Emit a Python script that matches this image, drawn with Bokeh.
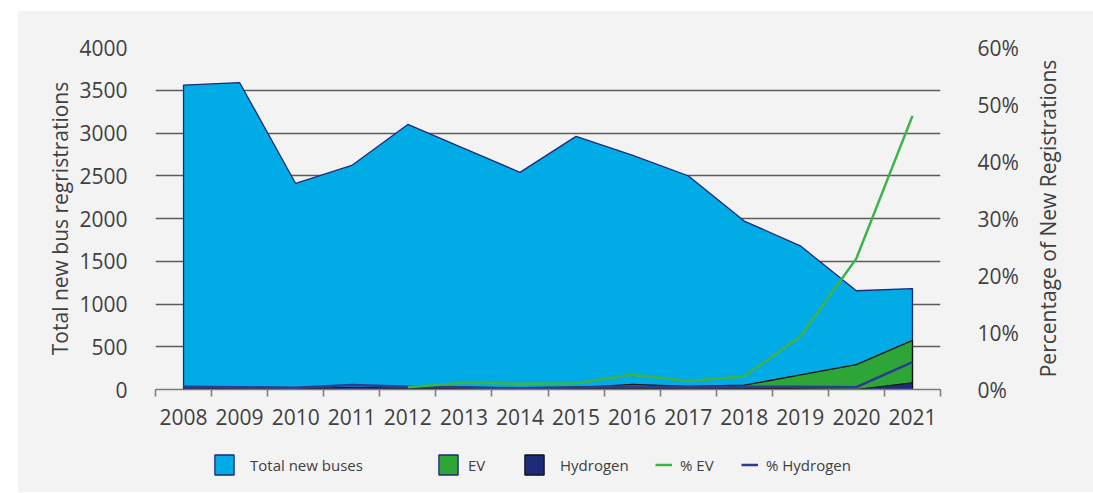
import math
from bokeh.plotting import figure
from bokeh.layouts import column, row
from bokeh.models import Range1d, LinearAxis, FixedTicker, PrintfTickFormatter, Legend, LegendItem
from bokeh.embed import file_html
from bokeh.resources import INLINE

# ---------------- data ----------------
years = [2008, 2009, 2010, 2011, 2012, 2013, 2014, 2015, 2016, 2017, 2018, 2019, 2020, 2021]
total_new_buses = [3560, 3590, 2410, 2620, 3100, 2820, 2540, 2960, 2740, 2500, 1970, 1680, 1155, 1180]
ev_buses = [0, 0, 0, 0, 0, 5, 5, 20, 60, 35, 50, 170, 290, 575]
hydrogen_buses = [20, 15, 10, 25, 15, 10, 5, 10, 10, 10, 15, 10, 0, 80]
pct_ev = [math.nan, math.nan, math.nan, math.nan, 0.4, 1.2, 1.0, 1.1, 2.6, 1.5, 2.3, 9.3, 23.0, 48.0]
pct_hydrogen = [0.5, 0.4, 0.3, 0.8, 0.5, 0.4, 0.2, 0.4, 0.5, 0.4, 0.5, 0.5, 0.4, 4.8]
left_ticks = [0, 500, 1000, 1500, 2000, 2500, 3000, 3500, 4000]
right_ticks = [0, 10, 20, 30, 40, 50, 60]
year_labels = [str(y) for y in years]
legend_labels = ["Total new buses", "EV", "Hydrogen", "% EV", "% Hydrogen"]

FONT = "Open Sans"
TEXT = "#404040"
BG = "#f3f3f3"
GRID = "#5c5c5c"
C_TOTAL = "#00abe6"
C_EV = "#2ea637"
C_H = "#1e2b78"
C_PEV = "#3cb44a"
C_PH = "#2b3a92"
C_OUT = "#1f2a78"

p = figure(width=1004, height=430, output_backend="svg", toolbar_location=None,
           x_range=Range1d(years[0] - 0.5, years[-1] + 0.5), y_range=Range1d(0, 4000),
           background_fill_color=BG, border_fill_color=BG, outline_line_color=None,
           min_border_left=137, min_border_right=82, min_border_top=36, min_border_bottom=52,
           margin=0)

p.extra_y_ranges = {"pct": Range1d(0, 60)}

# ---------------- areas & lines ----------------
zeros = [0] * len(years)
xs = years + years[::-1]
p.patch(xs, total_new_buses + zeros, fill_color=C_TOTAL, line_color=C_OUT, line_width=1.3)
p.patch(xs, ev_buses + zeros, fill_color=C_EV, line_color="#111111", line_width=1.3)
p.patch(xs, hydrogen_buses + zeros, fill_color=C_H, line_color="#111111", line_width=1.0)
p.line(years, pct_hydrogen, y_range_name="pct", line_color=C_PH, line_width=2.5)
p.line(years, pct_ev, y_range_name="pct", line_color=C_PEV, line_width=2.5)

# ---------------- axes ----------------
xa = p.xaxis[0]
xa.ticker = FixedTicker(ticks=years, minor_ticks=[y - 0.5 for y in years] + [years[-1] + 0.5])
xa.major_label_overrides = {y: lab for y, lab in zip(years, year_labels)}
xa.major_tick_out = 0
xa.major_tick_in = 0
xa.minor_tick_out = 7
xa.minor_tick_in = 0
xa.minor_tick_line_color = "#7a7a7a"
xa.minor_tick_line_width = 1.5
xa.axis_line_color = "#7a7a7a"
xa.axis_line_width = 1.5
xa.major_label_standoff = 12
xa.major_label_text_font = FONT
xa.major_label_text_font_size = "21px"
xa.major_label_text_color = TEXT

ya = p.yaxis[0]
ya.ticker = FixedTicker(ticks=left_ticks)
ya.axis_line_color = None
ya.major_tick_line_color = None
ya.minor_tick_line_color = None
ya.major_label_standoff = 22
ya.major_label_text_font = FONT
ya.major_label_text_font_size = "21px"
ya.major_label_text_color = TEXT
ya.axis_label = "Total new bus regristrations"
ya.axis_label_text_font = FONT
ya.axis_label_text_font_size = "21px"
ya.axis_label_text_font_style = "normal"
ya.axis_label_text_color = TEXT
ya.axis_label_standoff = 2

ra = LinearAxis(y_range_name="pct", ticker=FixedTicker(ticks=right_ticks),
                formatter=PrintfTickFormatter(format="%d%%"))
ra.axis_line_color = None
ra.major_tick_line_color = None
ra.minor_tick_line_color = None
ra.major_label_standoff = 31
ra.major_label_text_font = FONT
ra.major_label_text_font_size = "21px"
ra.major_label_text_color = TEXT
p.add_layout(ra, "right")

p.xgrid.grid_line_color = None
p.ygrid.grid_line_color = GRID
p.ygrid.grid_line_width = 1.3

# ---------------- right title strip (reads bottom-to-top) ----------------
rt = figure(width=71, height=430, output_backend="svg", toolbar_location=None,
            x_range=Range1d(0, 1), y_range=Range1d(0, 60),
            x_axis_location=None, y_axis_location="left",
            background_fill_color=BG, border_fill_color=BG, outline_line_color=None,
            min_border_left=39, min_border_right=0, min_border_top=36, min_border_bottom=52,
            margin=0)
rt.grid.visible = False
rta = rt.yaxis[0]
rta.ticker = FixedTicker(ticks=[])
rta.axis_line_color = None
rta.major_tick_line_color = None
rta.minor_tick_line_color = None
rta.axis_label = "Percentage of New Registrations"
rta.axis_label_text_font = FONT
rta.axis_label_text_font_size = "21px"
rta.axis_label_text_font_style = "normal"
rta.axis_label_text_color = TEXT
rta.axis_label_standoff = 0

# ---------------- legend strip ----------------
# same series drawn out of view; only their legend swatches show
lg = figure(width=1075, height=51, output_backend="svg", toolbar_location=None,
            x_range=Range1d(0, 1), y_range=Range1d(0, 1),
            x_axis_location=None, y_axis_location=None,
            background_fill_color=BG, border_fill_color=BG, outline_line_color=None,
            min_border_left=137, min_border_right=153, min_border_top=0, min_border_bottom=0,
            margin=0)
lg.grid.visible = False

g_total = lg.patch(xs, total_new_buses + zeros, fill_color=C_TOTAL, line_color=C_OUT, line_width=1.3)
g_ev = lg.patch(xs, ev_buses + zeros, fill_color=C_EV, line_color=C_OUT, line_width=1.3)
g_h = lg.patch(xs, hydrogen_buses + zeros, fill_color=C_H, line_color="#111111", line_width=1.3)
g_pev = lg.line(years, pct_ev, line_color=C_PEV, line_width=2.5)
g_ph = lg.line(years, pct_hydrogen, line_color=C_PH, line_width=2.5)

specs = [
    (g_total, 57, 24, 14),
    (g_ev, 281, 24, 8),
    (g_h, 367, 24, 14),
    (g_pev, 500, 17, 8),
    (g_ph, 586, 17, 8),
]
for (rend, xloc, gw, std), lab in zip(specs, legend_labels):
    leg = Legend(items=[LegendItem(label=lab, renderers=[rend])],
                 location=(xloc, 15), orientation="horizontal",
                 glyph_width=gw, glyph_height=25, label_standoff=std,
                 label_text_font=FONT, label_text_font_size="15px", label_text_color=TEXT,
                 label_height=25, border_line_color=None, background_fill_alpha=0,
                 padding=0, margin=0)
    lg.add_layout(leg, "center")

page = column(row(p, rt, spacing=0, styles={"background-color": BG}), lg, spacing=0,
              margin=(11, 0, 0, 18), styles={"background-color": BG})
open("out.html", "w").write(file_html(page, INLINE))
